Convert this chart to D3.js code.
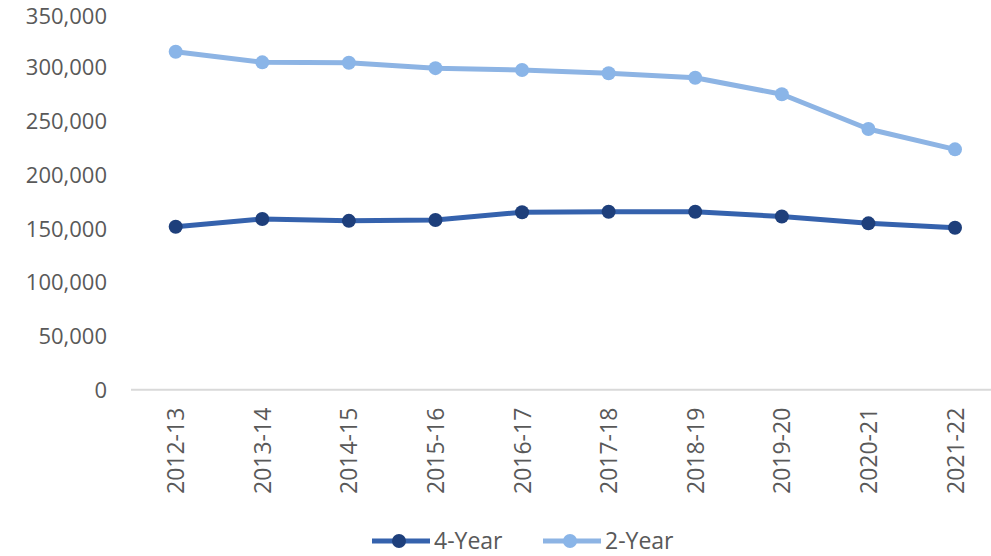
<!DOCTYPE html>
<html>
<head>
<meta charset="utf-8">
<script src="https://cdn.jsdelivr.net/npm/d3@7"></script>
<style>
  html, body { margin: 0; padding: 0; background: #fff; }
  svg { display: block; }
  text { font-family: "Open Sans", "Noto Sans", sans-serif; fill: #595959; }
</style>
</head>
<body>
<svg id="chart" width="991" height="556"></svg>
<script>
// Academic years on the category axis
const years = ["2012-13", "2013-14", "2014-15", "2015-16", "2016-17",
               "2017-18", "2018-19", "2019-20", "2020-21", "2021-22"];

// Enrollment by institution type
const fourYear = [151500, 158700, 157000, 157800, 165000,
                  165500, 165500, 161000, 154700, 150600];
const twoYear  = [314300, 304400, 304000, 299000, 297300,
                  294200, 290100, 274700, 242400, 223500];

// Value-axis ticks
const yTicks = [0, 50000, 100000, 150000, 200000, 250000, 300000, 350000];

const seriesNames = ["4-Year", "2-Year"];

const series = [
  { name: seriesNames[0], values: fourYear, line: "#3562ad", dot: "#1e3f7b" },
  { name: seriesNames[1], values: twoYear,  line: "#8db4e4", dot: "#8ab5e8" }
];

const svg = d3.select("#chart");

const x = d3.scalePoint()
  .domain(years)
  .range([175.7, 955])
  .padding(0);

const y = d3.scaleLinear()
  .domain([0, 350000])
  .range([389.7, 13.3]);

const fmt = d3.format(",");

// Value axis: labels only, no line or ticks
const yAxis = svg.append("g")
  .attr("transform", "translate(107,0)")
  .call(d3.axisLeft(y).tickValues(yTicks).tickFormat(fmt).tickSize(0).tickPadding(0));
yAxis.select(".domain").remove();
yAxis.selectAll("text")
  .style("font-size", "22px")
  .attr("dy", "0.35em")
  .attr("fill", "#595959");

// Keep the topmost label's box inside the drawing area
yAxis.selectAll(".tick").each(function () {
  const t = d3.select(this);
  const box = this.getBBox();
  const ty = +t.attr("transform").match(/,\s*([-\d.]+)/)[1];
  const top = ty + box.y;
  if (top < 0) {
    t.select("text").attr("y", -top);
  }
});

// Category axis baseline
svg.append("line")
  .attr("x1", 131).attr("x2", 991)
  .attr("y1", y(0)).attr("y2", y(0))
  .attr("stroke", "#d9d9d9")
  .attr("stroke-width", 2);

// Rotated category labels
const xAxis = svg.append("g")
  .attr("transform", `translate(0,${y(0)})`)
  .call(d3.axisBottom(x).tickSize(0).tickPadding(0));
xAxis.select(".domain").remove();
xAxis.selectAll("text")
  .style("font-size", "23px")
  .attr("fill", "#595959")
  .attr("text-anchor", "end")
  .attr("transform", "rotate(-90)")
  .attr("x", -18)
  .attr("y", 0)
  .attr("dy", "0.35em");

const line = d3.line()
  .x((d, i) => x(years[i]))
  .y(d => y(d));

series.forEach(s => {
  const g = svg.append("g");
  g.append("path")
    .datum(s.values)
    .attr("d", line)
    .attr("fill", "none")
    .attr("stroke", s.line)
    .attr("stroke-width", 5)
    .attr("stroke-linejoin", "round");
  g.selectAll("circle")
    .data(s.values)
    .join("circle")
    .attr("cx", (d, i) => x(years[i]))
    .attr("cy", d => y(d))
    .attr("r", 7)
    .attr("fill", s.dot);
});

// Legend
const legendItems = [
  { s: series[0], x0: 372 },
  { s: series[1], x0: 543 }
];
const ly = 541;
legendItems.forEach(({ s, x0 }) => {
  const g = svg.append("g");
  g.append("line")
    .attr("x1", x0).attr("x2", x0 + 58)
    .attr("y1", ly).attr("y2", ly)
    .attr("stroke", s.line)
    .attr("stroke-width", 5);
  g.append("circle")
    .attr("cx", x0 + 27).attr("cy", ly)
    .attr("r", 7)
    .attr("fill", s.dot);
  g.append("text")
    .attr("x", x0 + 62)
    .attr("y", ly)
    .attr("dy", "0.35em")
    .style("font-size", "23px")
    .text(s.name);
});
</script>
</body>
</html>
